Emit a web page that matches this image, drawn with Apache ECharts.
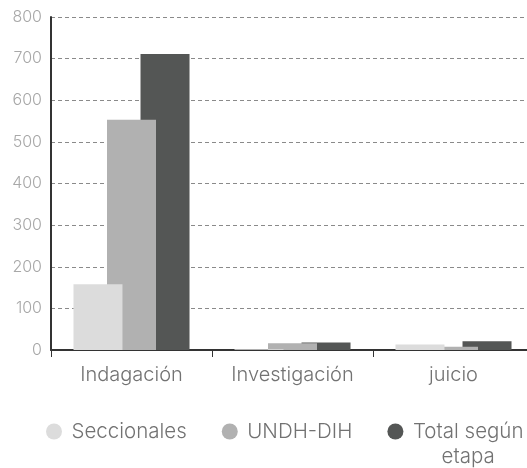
<!DOCTYPE html>
<html>
<head>
<meta charset="utf-8">
<script src="https://cdn.jsdelivr.net/npm/echarts@6/dist/echarts.min.js"></script>
<style>
  html, body { margin: 0; padding: 0; background: #fff; }
  #chart { width: 527px; height: 468px; }
</style>
</head>
<body>
<div id="chart"></div>
<script>
// Stages of the process
const categories = ['Indagación', 'Investigación', 'juicio'];

// Cases per stage
const seccionales = [158, 2, 13];
const undhDih = [553, 16, 8];
const totalSegunEtapa = [711, 18, 21];

const seriesNames = ['Seccionales', 'UNDH-DIH', 'Total según etapa'];
const seriesColors = ['#dcdcdc', '#b1b1b1', '#545655'];

const yTicks = { min: 0, max: 800, interval: 100 };

const FONT = 'Inter';
const WEIGHT = 300;

const chart = echarts.init(document.getElementById('chart'), null, { renderer: 'canvas' });

const barBase = {
  type: 'bar',
  barWidth: 49,
  barGap: '-31.6%',
  emphasis: { disabled: true }
};

const legendFont = { fontFamily: FONT, fontWeight: WEIGHT, fontSize: 20.5, color: '#727272', lineHeight: 25 };

chart.setOption({
  animation: false,
  textStyle: { fontFamily: FONT, fontWeight: WEIGHT },
  grid: {
    left: 51,
    right: -7,
    top: 17,
    bottom: 118,
    containLabel: false,
    outerBoundsMode: 'none'
  },
  legend: {
    left: 46,
    top: 394,
    padding: 0,
    itemGap: 35,
    itemWidth: 25,
    itemHeight: 16,
    icon: 'circle',
    textStyle: Object.assign({}, legendFont, {
      rich: {
        pad: Object.assign({}, legendFont),
        head: Object.assign({}, legendFont),
        tail: Object.assign({}, legendFont, { align: 'center' })
      }
    }),
    // Long names wrap onto a second line that hangs below the first one
    formatter: function (name) {
      if (name === 'Total según etapa') {
        return '{pad| }\n{head|Total según}\n{tail|etapa}';
      }
      return name;
    },
    data: seriesNames
  },
  xAxis: {
    type: 'category',
    data: categories,
    axisLine: { show: true, lineStyle: { color: '#333333', width: 2 } },
    axisTick: { show: true, alignWithLabel: false, length: 7, lineStyle: { color: '#333333', width: 1 } },
    axisLabel: { fontFamily: FONT, fontWeight: WEIGHT, fontSize: 20, color: '#727272', margin: 15 },
    splitLine: { show: false }
  },
  yAxis: {
    type: 'value',
    min: yTicks.min,
    max: yTicks.max,
    interval: yTicks.interval,
    axisLine: { show: true, lineStyle: { color: '#333333', width: 2 } },
    axisTick: { show: false },
    axisLabel: { fontFamily: FONT, fontWeight: WEIGHT, fontSize: 16, color: '#a8a8a8', margin: 9 },
    splitLine: { show: true, lineStyle: { color: '#8a8a8a', type: [4, 3], width: 1 } }
  },
  series: [
    Object.assign({}, barBase, { name: seriesNames[0], data: seccionales, z: 4, itemStyle: { color: seriesColors[0] } }),
    Object.assign({}, barBase, { name: seriesNames[1], data: undhDih, z: 3, itemStyle: { color: seriesColors[1] } }),
    Object.assign({}, barBase, { name: seriesNames[2], data: totalSegunEtapa, z: 2, itemStyle: { color: seriesColors[2] } })
  ]
});
</script>
</body>
</html>
